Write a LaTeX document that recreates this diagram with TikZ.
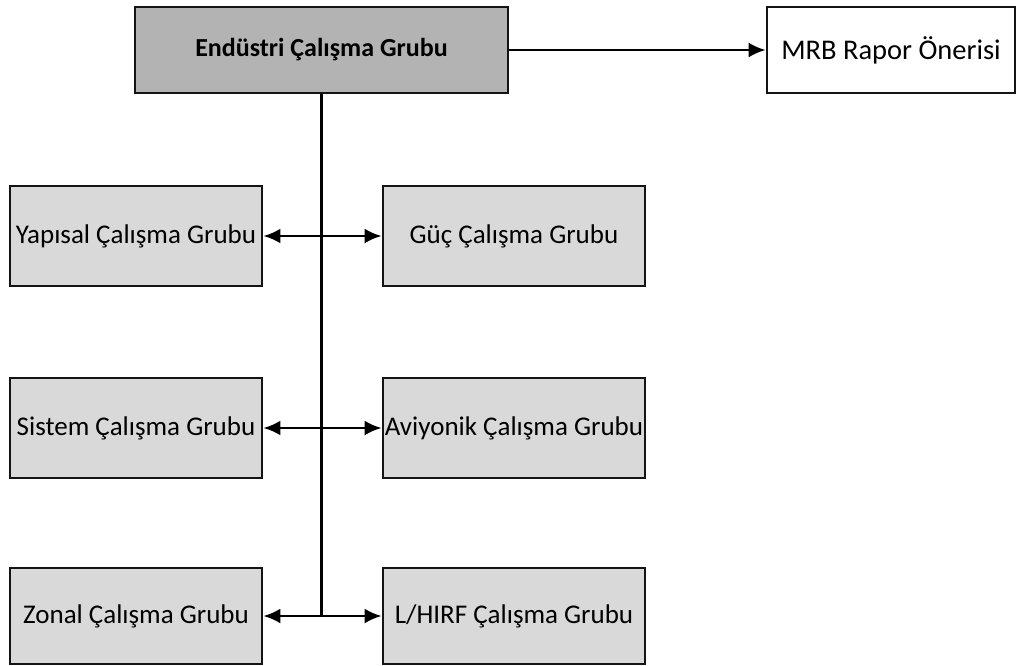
\documentclass[tikz,border=0pt]{standalone}
\usepackage{fontspec}
\setmainfont{Carlito}
\usetikzlibrary{arrows.meta}
\definecolor{headfill}{RGB}{179,179,179}
\definecolor{groupfill}{RGB}{217,217,217}
\definecolor{edge}{RGB}{20,20,20}
\tikzset{
  box/.style={draw=edge, line width=2.8pt, rectangle, inner sep=0pt, align=center, font=\fontsize{27}{32}\selectfont},
  headbox/.style={box, fill=headfill, minimum width=373pt, minimum height=86pt, font=\fontsize{26}{31}\selectfont\bfseries},
  outbox/.style={box, fill=white, minimum width=248pt, minimum height=86pt, font=\fontsize{28.5}{33}\selectfont},
  leftbox/.style={box, fill=groupfill, minimum width=252pt},
  rightbox/.style={box, fill=groupfill, minimum width=262pt},
  conn/.style={draw=black, line width=2.6pt},
  tip/.tip={Latex[length=17pt,width=15pt]}
}
\begin{document}
\begin{tikzpicture}[x=1pt,y=-1pt]
\useasboundingbox (0,0) rectangle (1017,666);
% header and report boxes
\node[headbox] (ind) at (321.5,50) {Endüstri Çalışma Grubu};
\node[outbox] (mrb) at (891,50) {MRB Rapor Önerisi};
% working groups, left column
\node[leftbox, minimum height=100pt] (yap) at (136,236) {Yapısal Çalışma Grubu};
\node[leftbox, minimum height=100pt] (sis) at (136,428) {Sistem Çalışma Grubu};
\node[leftbox, minimum height=96pt] (zon) at (136,616) {Zonal Çalışma Grubu};
% working groups, right column
\node[rightbox, minimum height=100pt] (guc) at (514,236) {Güç Çalışma Grubu};
\node[rightbox, minimum height=100pt] (avi) at (514,428) {Aviyonik Çalışma Grubu};
\node[rightbox, minimum height=96pt] (lhi) at (514,616) {L/HIRF Çalışma Grubu};
% connectors
\coordinate (trunkend) at (ind.south |- zon.east);
\draw[conn] (ind.south) -- (trunkend);
\draw[conn, -tip] (ind.east) -- (mrb.west);
\draw[conn, tip-tip] (yap.east) -- (guc.west);
\draw[conn, tip-tip] (sis.east) -- (avi.west);
\draw[conn, tip-tip] (zon.east) -- (lhi.west);
\end{tikzpicture}
\end{document}
